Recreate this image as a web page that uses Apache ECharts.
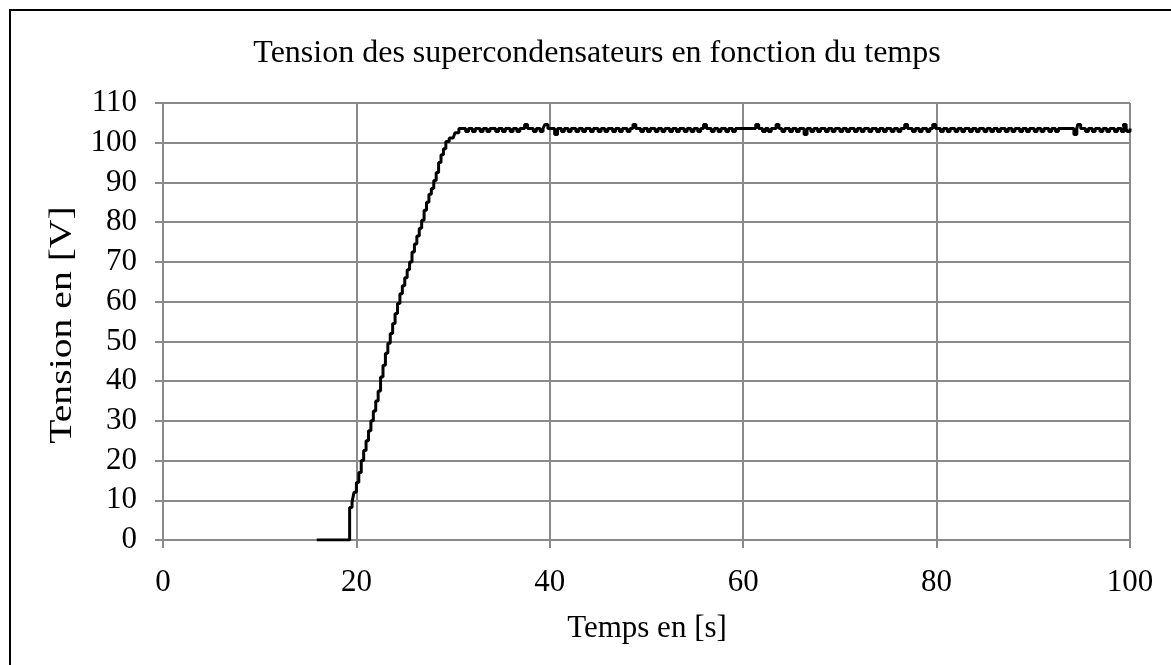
<!DOCTYPE html>
<html>
<head>
<meta charset="utf-8">
<script src="https://cdn.jsdelivr.net/npm/echarts@6/dist/echarts.min.js"></script>
<style>
  html, body { margin: 0; padding: 0; background: #ffffff; }
  #chart { width: 1171px; height: 665px; }
</style>
</head>
<body>
<div id="chart"></div>
<script>
// Charge ramp of the supercapacitor bank (time in s, voltage in V)
const rampTime = [15.9, 19.3, 19.55, 19.75, 20.0, 20.25, 20.5, 20.75, 21.0, 21.25, 21.5, 21.75, 22.0, 22.25, 22.5, 22.75, 23.0, 23.25, 23.5, 23.75, 24.0, 24.25, 24.5, 24.75, 25.0, 25.25, 25.5, 25.75, 26.0, 26.25, 26.5, 26.75, 27.0, 27.25, 27.5, 27.75, 28.0, 28.25, 28.5, 28.75, 29.0, 29.25, 29.6, 30.0, 30.2, 30.6];
const rampVolt = [0, 8.2, 9.5, 12, 14.5, 17, 20, 22.5, 25, 27.5, 30, 32.5, 35, 37.5, 41, 44, 47, 49.5, 52, 54.5, 57, 59.5, 62, 64, 66, 68, 70, 72.5, 74.5, 76.5, 78.5, 80.5, 83, 85, 87, 88.5, 90.5, 92.5, 95, 97, 98.5, 100.3, 101.2, 101.2, 102.5, 103.6];

// Steady-state level and the short excursions around it
const plateauLevel = 103.6;
const plateauEnd = 100;
const dipLevel = 102.8;
const dipTimes = [31.3, 32.0, 32.8, 33.5, 34.4, 35.1, 35.9, 36.6, 38.3, 39.0, 41.2, 41.9, 42.7, 43.4, 44.2, 45.0, 45.7, 46.5, 47.2, 48.0, 49.4, 50.1, 50.9, 51.6, 52.4, 53.1, 53.9, 54.6, 55.3, 56.7, 57.4, 58.2, 58.9, 62.0, 62.6, 64.0, 64.8, 65.5, 67.0, 67.7, 68.5, 69.2, 70.0, 70.7, 71.5, 72.2, 73.0, 73.8, 74.5, 75.3, 76.0, 77.5, 78.2, 79.0, 80.4, 81.1, 81.9, 82.6, 83.4, 84.1, 84.9, 85.6, 86.3, 87.1, 87.8, 88.6, 89.3, 90.1, 90.8, 91.6, 92.3, 95.4, 96.1, 96.9, 97.6, 98.4, 99.1, 99.7];
const peakLevel = 104.6;
const peakTimes = [37.4, 39.5, 48.6, 55.9, 61.3, 63.4, 76.7, 79.6, 94.6, 99.3];
const troughLevel = 102.1;
const troughTimes = [40.5, 66.3, 94.2];

// Axis ticks
const xTicks = [0, 20, 40, 60, 80, 100];
const yTicks = [0, 10, 20, 30, 40, 50, 60, 70, 80, 90, 100, 110];

const excursionWidth = 0.3;
const points = rampTime.map((t, i) => [t, rampVolt[i]]);
const events = []
  .concat(dipTimes.map(t => [t, dipLevel]))
  .concat(peakTimes.map(t => [t, peakLevel]))
  .concat(troughTimes.map(t => [t, troughLevel]))
  .sort((a, b) => a[0] - b[0]);
events.forEach(([t, v]) => {
  points.push([t, v]);
  points.push([Math.min(t + excursionWidth, plateauEnd), plateauLevel]);
});
points.push([plateauEnd, plateauLevel]);

const serif = '"Liberation Serif", "Times New Roman", serif';
const gridColor = '#8a8a8a';

const chart = echarts.init(document.getElementById('chart'), null, { renderer: 'canvas' });
chart.setOption({
  animation: false,
  backgroundColor: '#ffffff',
  grid: { left: 163, right: 41, top: 103, bottom: 125, containLabel: false },
  xAxis: {
    type: 'value',
    min: xTicks[0],
    max: xTicks[xTicks.length - 1],
    interval: xTicks[1] - xTicks[0],
    axisLine: { show: true, lineStyle: { color: gridColor, width: 2 } },
    axisTick: { show: true, length: 8, lineStyle: { color: gridColor, width: 2 } },
    axisLabel: { margin: 27, color: '#000', fontFamily: serif, fontSize: 31 },
    splitLine: { show: true, lineStyle: { color: gridColor, width: 2 } }
  },
  yAxis: {
    type: 'value',
    min: yTicks[0],
    max: yTicks[yTicks.length - 1],
    interval: yTicks[1] - yTicks[0],
    axisLine: { show: true, lineStyle: { color: gridColor, width: 2 } },
    axisTick: { show: true, length: 8, lineStyle: { color: gridColor, width: 2 } },
    axisLabel: { margin: 26, color: '#000', fontFamily: serif, fontSize: 31 },
    splitLine: { show: true, lineStyle: { color: gridColor, width: 2 } }
  },
  series: [{
    type: 'line',
    step: 'end',
    data: points,
    showSymbol: false,
    lineStyle: { color: '#000', width: 3 },
    z: 5
  }],
  graphic: [
    {
      type: 'rect',
      shape: { x: 10, y: 10, width: 1300, height: 800 },
      style: { fill: 'none', stroke: '#000', lineWidth: 2 },
      silent: true
    },
    {
      type: 'text',
      x: 597, y: 54,
      style: { text: 'Tension des supercondensateurs en fonction du temps', fontFamily: serif, fontSize: 32, fill: '#000', align: 'center', verticalAlign: 'middle' }
    },
    {
      type: 'text',
      x: 647, y: 629,
      style: { text: 'Temps en [s]', fontFamily: serif, fontSize: 31, fill: '#000', align: 'center', verticalAlign: 'middle' }
    },
    {
      type: 'text',
      x: 63, y: 325,
      rotation: Math.PI / 2,
      scaleX: 1.28,
      style: { text: 'Tension en [V]', fontFamily: serif, fontSize: 31, fill: '#000', align: 'center', verticalAlign: 'middle' }
    }
  ]
});
</script>
</body>
</html>
